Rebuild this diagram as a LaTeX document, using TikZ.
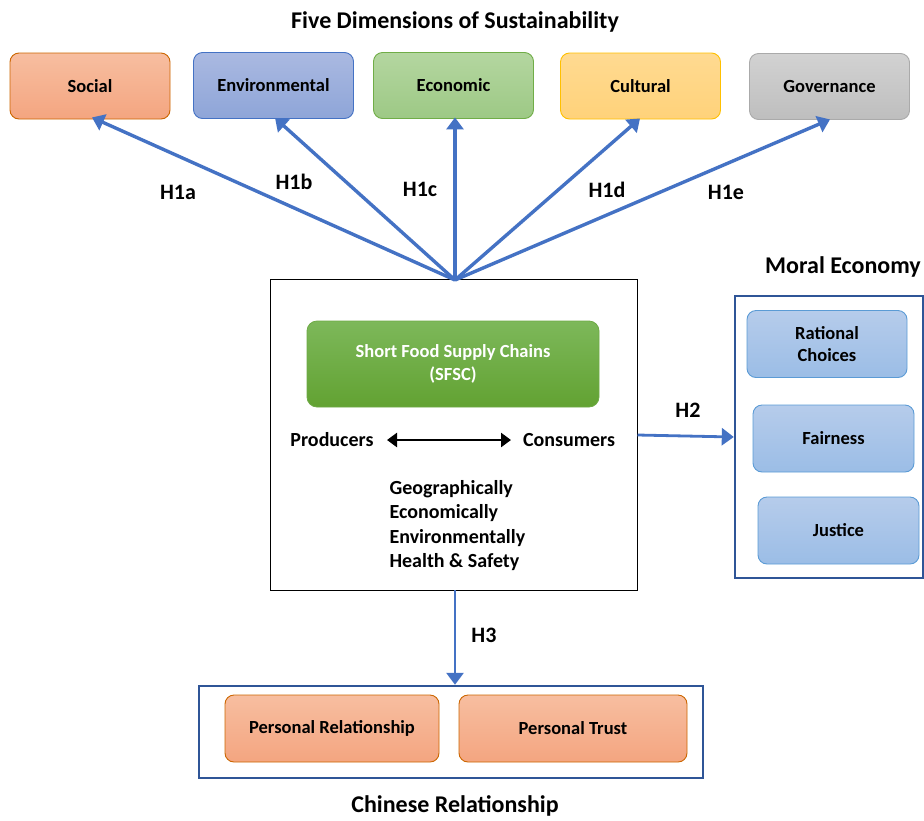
\documentclass[tikz,border=0pt]{standalone}
\usepackage{fontspec}
\setmainfont{Carlito}
\usetikzlibrary{arrows.meta}
\definecolor{arrowblue}{HTML}{4472C4}
\definecolor{frameblue}{HTML}{2F5597}
\tikzset{
  dimbox/.style={draw, line width=0.9pt, rounded corners=9pt, minimum width=160pt, minimum height=66pt, font=\bfseries\fontsize{18.5}{22}\selectfont, align=center},
  orangebox/.style={dimbox, draw=orange!80!black, top color={rgb,255:red,247;green,190;blue,160}, bottom color={rgb,255:red,244;green,165;blue,128}},
  bluebox/.style={dimbox, draw=arrowblue, top color={rgb,255:red,170;green,185;blue,225}, bottom color={rgb,255:red,142;green,165;blue,216}},
  greenbox/.style={dimbox, draw={rgb,255:red,112;green,173;blue,71}, top color={rgb,255:red,180;green,214;blue,160}, bottom color={rgb,255:red,157;green,201;blue,133}},
  yellowbox/.style={dimbox, draw={rgb,255:red,255;green,192;blue,0}, top color={rgb,255:red,255;green,218;blue,145}, bottom color={rgb,255:red,255;green,210;blue,122}},
  graybox/.style={dimbox, draw={rgb,255:red,170;green,170;blue,170}, top color={rgb,255:red,210;green,210;blue,210}, bottom color={rgb,255:red,190;green,190;blue,190}},
  ltbluebox/.style={dimbox, draw={rgb,255:red,91;green,155;blue,213}, top color={rgb,255:red,182;green,204;blue,235}, bottom color={rgb,255:red,155;green,189;blue,230}},
  link/.style={draw=arrowblue, line width=3.4pt, -{Triangle[length=12pt,width=17pt]}},
  hlabel/.style={font=\bfseries\fontsize{22}{24}\selectfont},
  title/.style={font=\bfseries\fontsize{24}{26}\selectfont},
  frame/.style={draw=frameblue, line width=2.4pt},
  body/.style={font=\bfseries\fontsize{20}{24.4}\selectfont},
}
\begin{document}
\begin{tikzpicture}[x=1pt,y=-1pt]
\useasboundingbox (0,0) rectangle (924,820);
% title
\node[title] (t1) at (455,22) {Five Dimensions of Sustainability};
% top boxes
\node[orangebox] (social) at (90,86) {Social};
\node[bluebox] (env) at (273.5,85.5) {Environmental};
\node[greenbox] (eco) at (453.5,85.5) {Economic};
\node[yellowbox] (cul) at (640.5,86) {Cultural};
\node[graybox] (gov) at (829.5,86.5) {Governance};
% center box
\node[draw, line width=1pt, minimum width=367pt, minimum height=311pt] (center) at (453.5,434.5) {};
\coordinate (hub) at (455,280);
\node[draw={rgb,255:red,110;green,170;blue,70}, line width=0.8pt, rounded corners=10pt, minimum width=292pt, minimum height=86pt,
  top color={rgb,255:red,125;green,184;blue,90}, bottom color={rgb,255:red,98;green,162;blue,50},
  text=white, align=center, font=\bfseries\fontsize{18.5}{23}\selectfont] (sfsc) at (453,364) {Short Food Supply Chains\\(SFSC)};
\node[body] (prod) at (332,440) {Producers};
\node[body] (cons) at (569,440) {Consumers};
\coordinate (pa) at (387,440);
\coordinate (pb) at (511,440);
\draw[line width=2.8pt, {Triangle[length=10pt,width=14pt]}-{Triangle[length=10pt,width=14pt]}] (pa) -- (pb);
\node[body, align=left, anchor=north west] (list) at (386,477) {Geographically\\Economically\\Environmentally\\Health \& Safety};
% arrows to dimensions
\draw[link] (hub) -- ([xshift=2pt,yshift=2pt]social.south);
\draw[link] (hub) -- ([xshift=1.5pt,yshift=1pt]env.south);
\draw[link] (hub) -- ([xshift=1.5pt,yshift=1.5pt]eco.south);
\draw[link] (hub) -- ([xshift=-0.5pt,yshift=1pt]cul.south);
\draw[link] (hub) -- ([xshift=0.5pt,yshift=0.5pt]gov.south);
\node[hlabel] (h1a) at (178,192) {H1a};
\node[hlabel] (h1b) at (294,182) {H1b};
\node[hlabel] (h1c) at (420,189) {H1c};
\node[hlabel] (h1d) at (607,190) {H1d};
\node[hlabel] (h1e) at (726,192) {H1e};
% moral economy
\node[title] (me) at (843,267) {Moral Economy};
\node[frame, minimum width=188pt, minimum height=282pt] (meframe) at (829,437) {};
\node[ltbluebox, minimum height=67pt, font=\bfseries\fontsize{18.5}{22}\selectfont] (rat) at (827,344) {Rational\\Choices};
\node[ltbluebox, minimum width=161pt, minimum height=67pt] (fair) at (833.5,438.5) {Fairness};
\node[ltbluebox, minimum width=161pt, minimum height=67pt] (just) at (838.5,530.5) {Justice};
\draw[link, line width=2.8pt] (center.east |- 0,435) coordinate (c2) -- (meframe.west |- 0,437);
\node[hlabel] (h2) at (688,410) {H2};
% chinese relationship
\node[frame, minimum width=504pt, minimum height=92pt] (cframe) at (451,732) {};
\node[orangebox, minimum width=214pt, minimum height=67pt] (prel) at (332,728.5) {Personal Relationship};
\node[orangebox, minimum width=228pt, minimum height=67pt] (ptrust) at (573,728.5) {Personal Trust};
\draw[link, line width=2.8pt] (455,590) coordinate (c3) -- (cframe.north -| c3);
\node[hlabel] (h3) at (484,635) {H3};
\node[title] (cr) at (455,806) {Chinese Relationship};
\end{tikzpicture}
\end{document}
